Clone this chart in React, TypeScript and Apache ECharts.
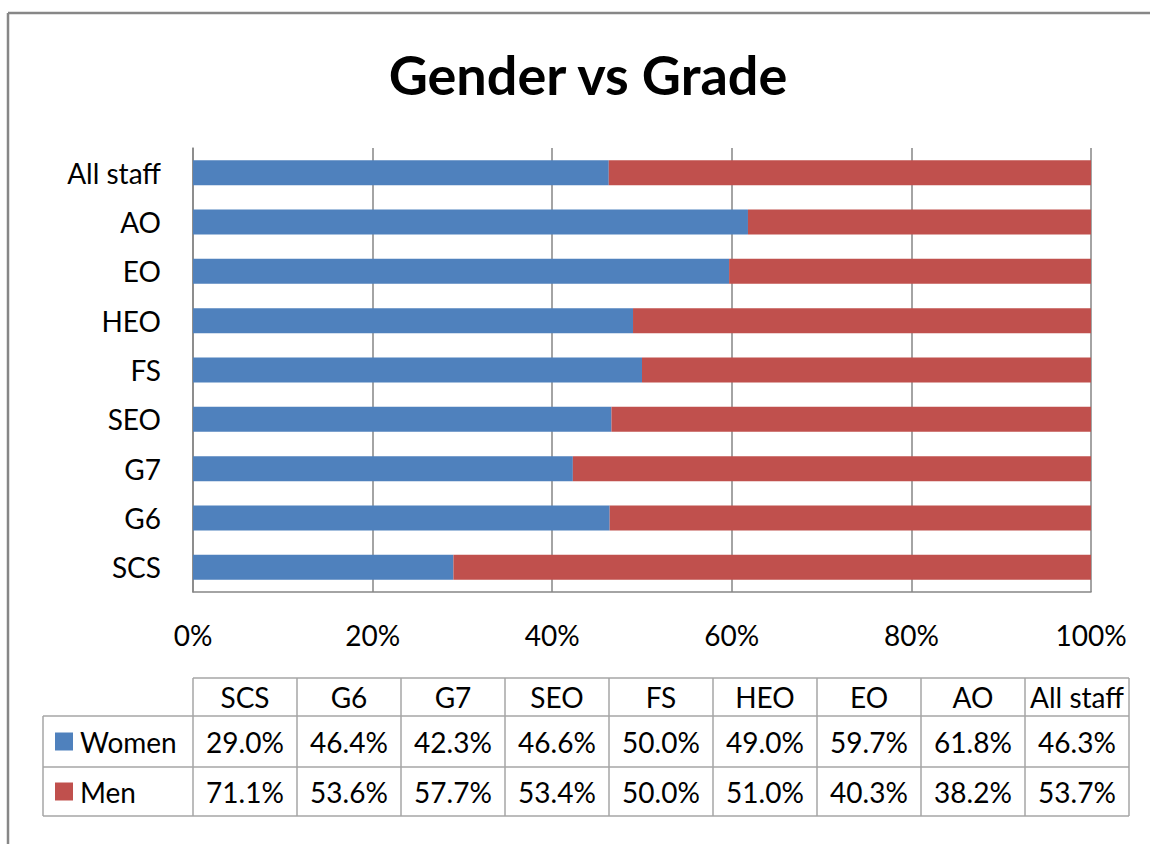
import React, { useEffect, useRef } from "react";
import * as echarts from "echarts";

const categories = ["SCS", "G6", "G7", "SEO", "FS", "HEO", "EO", "AO", "All staff"];
const women = [29.0, 46.4, 42.3, 46.6, 50.0, 49.0, 59.7, 61.8, 46.3];
const men = [71.1, 53.6, 57.7, 53.4, 50.0, 51.0, 40.3, 38.2, 53.7];
const seriesNames = ["Women", "Men"];
const colors = ["#4F81BD", "#C0504D"];

const FONT = "Lato, 'Open Sans', sans-serif";
const FS = 28;

export default function App() {
  const ref = useRef<HTMLDivElement>(null);
  useEffect(() => {
    if (!ref.current) return;
    const chart = echarts.init(ref.current, null, { renderer: "svg" });

    const colX0 = 193;
    const colW = 104;
    const tableRight = colX0 + colW * categories.length;
    const legendLeft = 43;
    const rowY = [678, 716, 767, 816];
    const gridColor = "#A6A6A6";
    const graphics: any[] = [];
    graphics.push({ type: "line", shape: { x1: colX0, y1: rowY[0], x2: tableRight, y2: rowY[0] }, style: { stroke: gridColor, lineWidth: 1.5 } });
    for (let r = 1; r < rowY.length; r++) {
      graphics.push({ type: "line", shape: { x1: legendLeft, y1: rowY[r], x2: tableRight, y2: rowY[r] }, style: { stroke: gridColor, lineWidth: 1.5 } });
    }
    graphics.push({ type: "line", shape: { x1: legendLeft, y1: rowY[1], x2: legendLeft, y2: rowY[3] }, style: { stroke: gridColor, lineWidth: 1.5 } });
    for (let c = 0; c <= categories.length; c++) {
      const x = colX0 + c * colW;
      graphics.push({ type: "line", shape: { x1: x, y1: rowY[0], x2: x, y2: rowY[3] }, style: { stroke: gridColor, lineWidth: 1.5 } });
    }
    const textStyle = { font: `${FS}px ${FONT}`, fill: "#000", textVerticalAlign: "middle" };
    categories.forEach((cat, i) => {
      const cx = colX0 + i * colW + colW / 2;
      graphics.push({ type: "text", x: cx, y: (rowY[0] + rowY[1]) / 2, style: { ...textStyle, text: cat, textAlign: "center", textVerticalAlign: "middle" } });
      graphics.push({ type: "text", x: cx, y: (rowY[1] + rowY[2]) / 2, style: { ...textStyle, text: women[i].toFixed(1) + "%", textAlign: "center", textVerticalAlign: "middle" } });
      graphics.push({ type: "text", x: cx, y: (rowY[2] + rowY[3]) / 2, style: { ...textStyle, text: men[i].toFixed(1) + "%", textAlign: "center", textVerticalAlign: "middle" } });
    });
    seriesNames.forEach((name, r) => {
      const cy = (rowY[r + 1] + rowY[r + 2]) / 2;
      graphics.push({ type: "rect", shape: { x: 55, y: cy - 9, width: 18, height: 18 }, style: { fill: colors[r] } });
      graphics.push({ type: "text", x: 80, y: cy, style: { ...textStyle, text: name, textAlign: "left", textVerticalAlign: "middle" } });
    });
    graphics.push({ type: "line", shape: { x1: 8, y1: 13, x2: 1150, y2: 13 }, style: { stroke: "#878787", lineWidth: 2.5 } });
    graphics.push({ type: "line", shape: { x1: 8, y1: 13, x2: 8, y2: 844 }, style: { stroke: "#878787", lineWidth: 2.5 } });

    chart.setOption({
      animation: false,
      backgroundColor: "#fff",
      title: {
        text: "Gender vs Grade",
        left: 583,
        textAlign: "center",
        top: 42,
        textStyle: { fontFamily: FONT, fontSize: 54, fontWeight: "bold", color: "#000" },
      },
      grid: { left: 193, right: 59, top: 148, bottom: 252, containLabel: false },
      xAxis: {
        type: "value",
        min: 0,
        max: 100,
        interval: 20,
        axisLine: { show: true, lineStyle: { color: "#868686", width: 1.5 } },
        axisTick: { show: false },
        splitLine: { show: true, lineStyle: { color: "#868686", width: 1.5 } },
        axisLabel: { formatter: "{value}%", fontFamily: FONT, fontSize: FS, color: "#000", margin: 29 },
      },
      yAxis: {
        type: "category",
        data: categories,
        axisLine: { show: true, lineStyle: { color: "#868686", width: 1.5 } },
        axisTick: { show: false },
        splitLine: { show: false },
        axisLabel: { fontFamily: FONT, fontSize: FS, color: "#000", margin: 32 },
      },
      series: [
        { name: seriesNames[0], type: "bar", stack: "total", data: women, barWidth: 25, itemStyle: { color: colors[0] } },
        { name: seriesNames[1], type: "bar", stack: "total", data: men, barWidth: 25, itemStyle: { color: colors[1] } },
      ],
      graphic: graphics,
    });
    return () => chart.dispose();
  }, []);
  return <div ref={ref} style={{ position: "fixed", left: 0, top: 0, width: 1150, height: 844 }} />;
}
